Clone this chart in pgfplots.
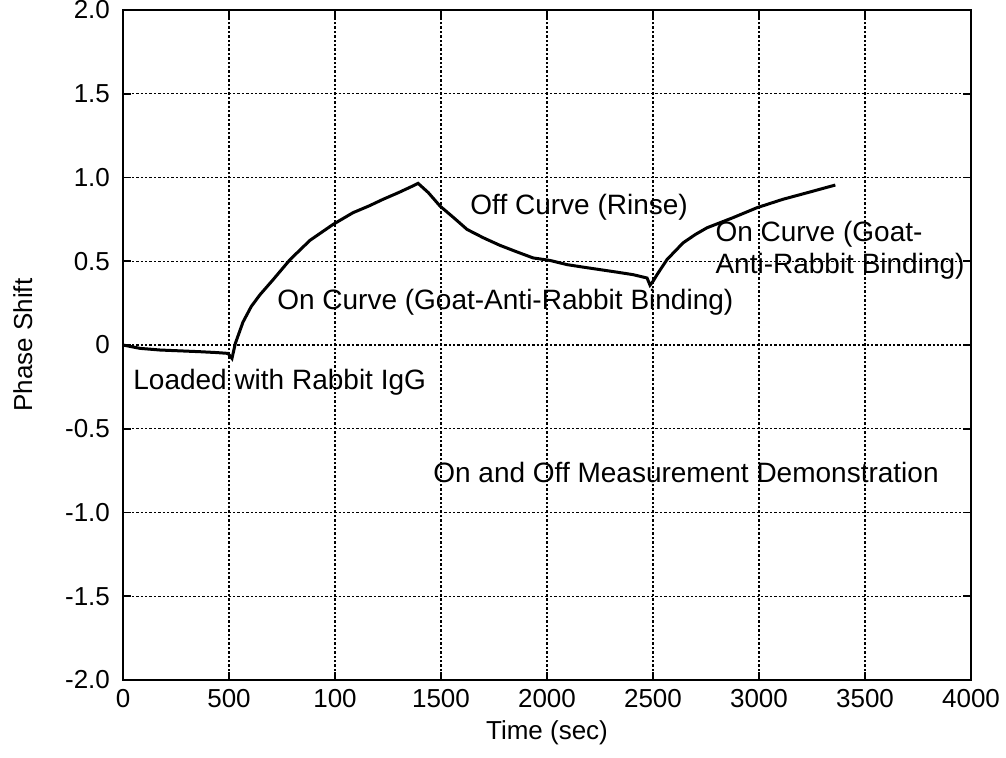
\documentclass[border=0pt]{standalone}
\usepackage{pgfplots}
\pgfplotsset{compat=1.18}
\usepackage{fontspec}
\setmainfont{Liberation Sans}
\begin{document}
\begin{tikzpicture}
\begin{axis}[
  name=ax, at={(0,0)}, anchor=south west,
  scale only axis, width=424pt, height=335pt,
  xmin=0, xmax=4000, ymin=-2, ymax=2,
  xtick={0,500,1000,1500,2000,2500,3000,3500,4000},
  xticklabels={0,500,100,1500,2000,2500,3000,3500,4000},
  ytick={-2,-1.5,-1,-0.5,0,0.5,1,1.5,2},
  yticklabels={-2.0,-1.5,-1.0,-0.5,0,0.5,1.0,1.5,2.0},
  tick label style={font=\fontsize{13}{15}\selectfont},
  xticklabel style={yshift=-1pt},
  yticklabel style={xshift=-3pt},
  /pgf/number format/assume math mode=true,
  xlabel={Time (sec)}, ylabel={Phase Shift},
  every axis x label/.style={at={(axis description cs:0.5,-0.079)}, anchor=center, font=\fontsize{13}{15}\selectfont},
  every axis y label/.style={at={(axis description cs:-0.118,0.5)}, rotate=90, anchor=center, font=\fontsize{13}{15}\selectfont},
  grid=major,
  major grid style={black, line width=0.6pt, dash pattern=on 1.2pt off 1pt},
  axis line style={line width=1.3pt},
  tick style={black, line width=0.8pt},
  major tick length=4pt, tick align=inside,
  clip=false,
]
\addplot[black, line width=1.5pt] coordinates {
(0,0.00) (80,-0.02) (175,-0.03) (270,-0.035) (363,-0.04) (440,-0.045) (495,-0.05) (514,-0.08)
(530,0.01) (566,0.137) (605,0.23) (646,0.30) (708,0.39) (788,0.51) (882,0.625) (991,0.72)
(1085,0.79) (1160,0.83) (1227,0.87) (1300,0.91) (1368,0.95) (1392,0.965)
(1440,0.91) (1495,0.83) (1560,0.76) (1623,0.69) (1700,0.64) (1778,0.595) (1860,0.555) (1934,0.52)
(2014,0.505) (2094,0.48) (2170,0.465) (2250,0.45) (2330,0.435) (2406,0.42) (2472,0.40) (2486,0.357)
(2500,0.38) (2519,0.42) (2566,0.51) (2642,0.61) (2700,0.66) (2755,0.70) (2877,0.76) (2991,0.82)
(3113,0.87) (3230,0.91) (3360,0.955)
};
\node[anchor=west, inner sep=0, font=\fontsize{14}{16}\selectfont] at (axis cs:1637,0.82) {Off Curve (Rinse)};
\node[anchor=west, inner sep=0, font=\fontsize{14}{16}\selectfont] at (axis cs:726,0.256) {On Curve (Goat-Anti-Rabbit Binding)};
\node[anchor=west, inner sep=0, align=left, font=\fontsize{14}{16}\selectfont] at (axis cs:2793,0.565) {On Curve (Goat-\\Anti-Rabbit Binding)};
\node[anchor=west, inner sep=0, font=\fontsize{14}{16}\selectfont] at (axis cs:47,-0.22) {Loaded with Rabbit IgG};
\node[anchor=west, inner sep=0, font=\fontsize{14}{16}\selectfont] at (axis cs:1462,-0.76) {On and Off Measurement Demonstration};
\end{axis}
\pgfresetboundingbox
\useasboundingbox (-61.5pt,-38.5pt) rectangle (441.5pt,340pt);
\end{tikzpicture}
\end{document}
